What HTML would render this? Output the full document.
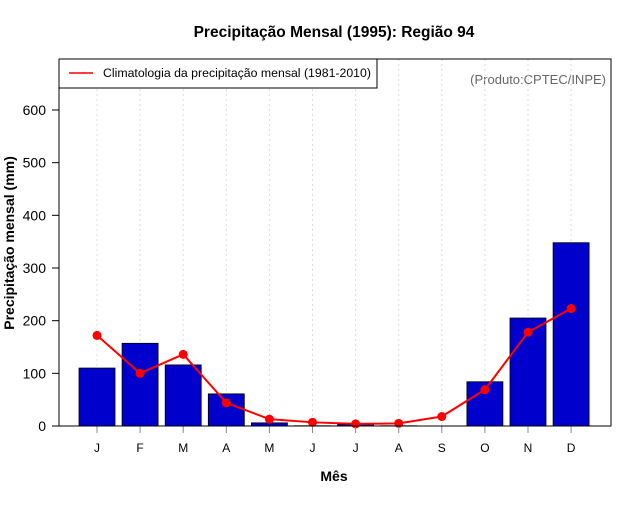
<!DOCTYPE html>
<html><head><meta charset="utf-8"><style>
body{margin:0;background:#fff;font-family:"Liberation Sans",sans-serif}
svg text{font-family:"Liberation Sans",sans-serif}
</style></head><body>
<svg id="c" width="640" height="500">
<text x="334" y="37" text-anchor="middle" font-size="15.5" font-weight="bold">Precipitação Mensal (1995): Região 94</text>
<text x="334" y="481" text-anchor="middle" font-size="14" font-weight="bold">Mês</text>
<text transform="translate(14,243) rotate(-90)" text-anchor="middle" font-size="14" font-weight="bold">Precipitação mensal (mm)</text>
<text x="606" y="84" text-anchor="end" font-size="13" fill="#666">(Produto:CPTEC/INPE)</text>
<g id="grid"></g><g id="bars"></g><g id="line"></g><g id="axes"></g>
<rect x="59" y="59" width="552" height="367" fill="none" stroke="#000"/>
<g>
<rect x="59" y="59" width="318" height="29" fill="#fff" stroke="#000"/>
<line x1="69" y1="73" x2="93" y2="73" stroke="#f00" stroke-width="1.5"/>
<text x="103" y="77" font-size="12.3">Climatologia da precipitação mensal (1981-2010)</text>
</g>
</svg>
<script>
const months=["J","F","M","A","M","J","J","A","S","O","N","D"];
const precip=[110,157,116,61,6,0.5,3,0.5,0,84,205,348];
const clim=[172,100,136,44,13,7,4,5,18,69,178,223];
const yTicks=[0,100,200,300,400,500,600];
const NS="http://www.w3.org/2000/svg";
const X=i=>97+i*43.1, Y=v=>426-v*0.52667;
function mk(p,t,a){const e=document.createElementNS(NS,t);for(const k in a)e.setAttribute(k,a[k]);document.getElementById(p).appendChild(e);return e;}
months.forEach((m,i)=>{
 let g=mk("grid","line",{x1:X(i),x2:X(i),y1:59,y2:426,stroke:"#ddd","stroke-dasharray":"2,3"});
 
 
 let t=mk("axes","line",{x1:X(i),x2:X(i),y1:426,y2:433,stroke:"#888"});
 
 
 let l=mk("axes","text",{x:X(i),y:452,"text-anchor":"middle","font-size":"12"});l.textContent=m;
 
 
 let b=mk("bars","rect",{x:X(i)-18,y:Y(precip[i]),width:36,height:Math.max(0,426-Y(precip[i])),fill:"#0000cd",stroke:"#000","stroke-width":"0.8"});
 
 
});
yTicks.forEach(v=>{
 let t=mk("axes","line",{x1:52,x2:59,y1:Y(v),y2:Y(v),stroke:"#000"});
 
 
 let l=mk("axes","text",{x:46,y:Y(v)+5,"text-anchor":"end","font-size":"14"});l.textContent=v;
 
 
});
let pl=mk("line","polyline",{points:clim.map((v,i)=>X(i)+","+Y(v)).join(" "),fill:"none",stroke:"#f00","stroke-width":"2"});


clim.forEach((v,i)=>{
 let c=mk("line","circle",{cx:X(i),cy:Y(v),r:4.5,fill:"#f00"});
 
 
});
</script>
</body></html>
